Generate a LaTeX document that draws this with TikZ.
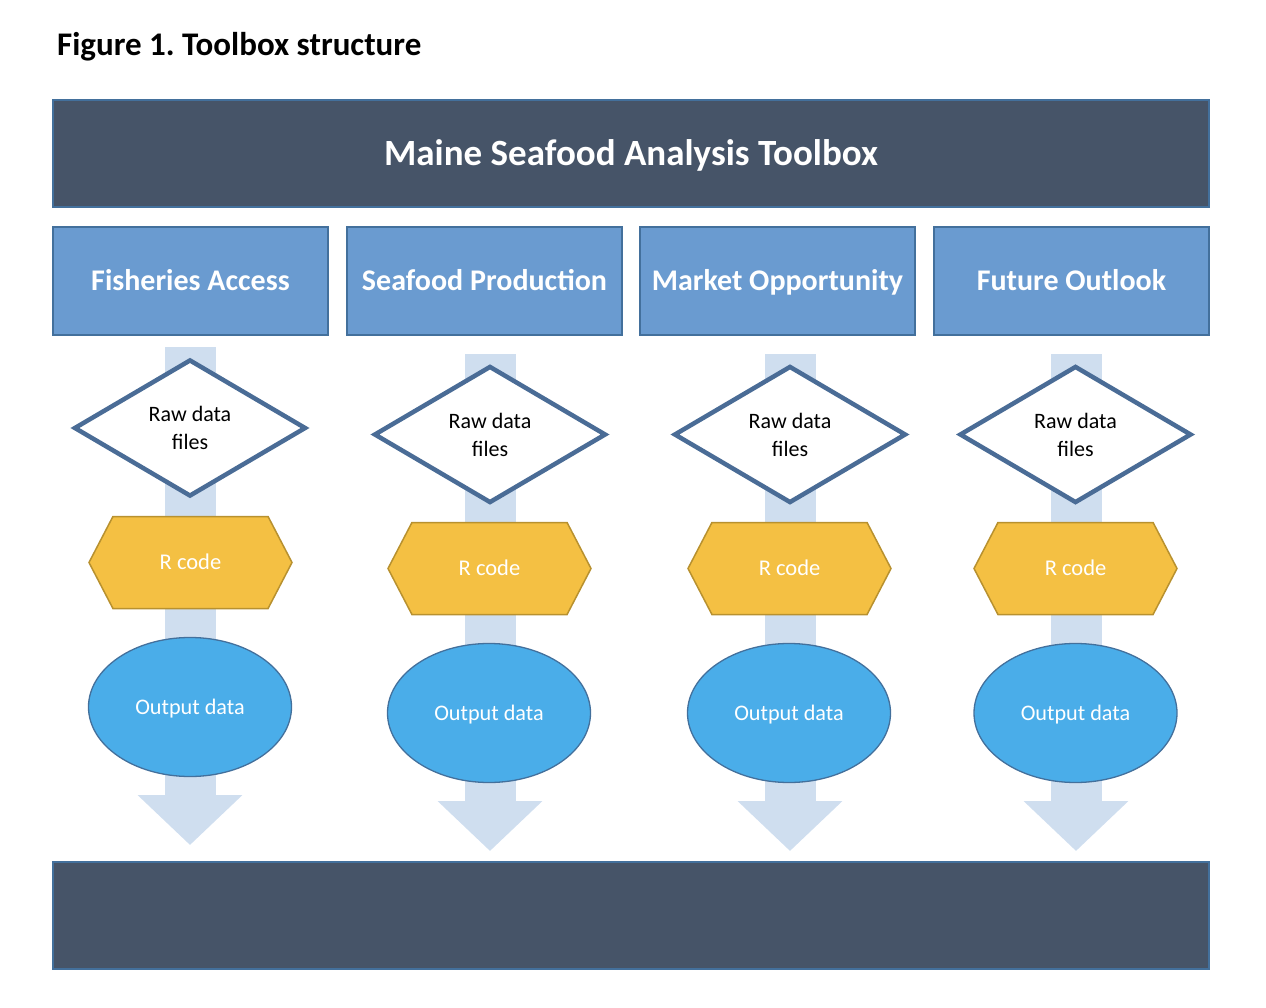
\documentclass[tikz,border=0pt]{standalone}
\usepackage{fontspec}
\setmainfont{Carlito}
\frenchspacing
\usetikzlibrary{shapes.geometric,shapes.symbols,arrows.meta}
\definecolor{navy}{HTML}{465468}
\definecolor{edgeblue}{HTML}{43709C}
\definecolor{catblue}{HTML}{6A9BD0}
\definecolor{diaedge}{HTML}{4A6C96}
\definecolor{flow}{HTML}{CFDEEF}
\definecolor{gold}{HTML}{F4C043}
\definecolor{goldedge}{HTML}{B8912F}
\definecolor{sky}{HTML}{4AADE9}
\begin{document}
\begin{tikzpicture}[x=1pt,y=-1pt,
  bigbox/.style={draw=edgeblue,line width=2pt,fill=navy,minimum width=1156pt,minimum height=107pt,inner sep=0pt,text=white,text height=23.5pt,text depth=0pt,font=\bfseries\fontsize{37}{44}\selectfont},
  catbox/.style={draw=edgeblue,line width=2pt,fill=catblue,minimum width=275pt,minimum height=107pt,inner sep=0pt,text=white,text height=19pt,text depth=0pt,font=\bfseries\fontsize{30}{36}\selectfont},
  rawbox/.style={diamond,draw=diaedge,line width=4.5pt,fill=white,minimum width=232pt,minimum height=137pt,inner sep=0pt,align=center,font=\fontsize{22}{28}\selectfont},
  codebox/.style={signal,signal to=west and east,signal pointer angle=125,draw=goldedge,line width=1.5pt,fill=gold,minimum width=203pt,minimum height=92pt,inner sep=0pt,text=white,text height=14pt,text depth=0pt,font=\fontsize{22.5}{27}\selectfont},
  outbox/.style={ellipse,draw=edgeblue,line width=1.3pt,fill=sky,minimum width=203pt,minimum height=139pt,inner sep=0pt,text=white,text height=14pt,text depth=0pt,font=\fontsize{22.2}{27}\selectfont},
  flowarrow/.style={draw=flow,line width=51pt,-{Triangle[width=102pt,length=50pt]}}
]
\useasboundingbox (0,0) rectangle (1266,1008);

\node[anchor=base west,inner sep=0pt,font=\bfseries\fontsize{33}{38}\selectfont] (fig) at (57,56) {Figure 1. Toolbox structure};

\node[bigbox] (top) at (631,153.5) {Maine Seafood Analysis Toolbox};
\node[bigbox] (bottom) at (631,915.5) {};

\node[catbox] (c1) at (190.5,281) {Fisheries Access};
\node[catbox] (c2) at (484.5,281) {Seafood Production};
\node[catbox] (c3) at (777.5,281) {Market Opportunity};
\node[catbox] (c4) at (1071.5,281) {Future Outlook};

% flow arrows
\coordinate (s1) at (190,347); \coordinate (e1) at (190,845);
\coordinate (s2) at (490,354); \coordinate (e2) at (490,851);
\coordinate (s3) at (790,354); \coordinate (e3) at (790,851);
\coordinate (s4) at (1076,354); \coordinate (e4) at (1076,851);
\draw[flowarrow] (s1) -- (e1);
\draw[flowarrow] (s2) -- (e2);
\draw[flowarrow] (s3) -- (e3);
\draw[flowarrow] (s4) -- (e4);

% column 1
\node[rawbox] (r1) at (190,428) {Raw data\\files};
\node[codebox] (k1) at (190.5,562.5) {R code};
\node[outbox] (o1) at (190,707) {Output data};
% column 2
\node[rawbox] (r2) at (490,434.5) {Raw data\\files};
\node[codebox] (k2) at (489.5,568.5) {R code};
\node[outbox] (o2) at (489,713) {Output data};
% column 3
\node[rawbox] (r3) at (790,434.5) {Raw data\\files};
\node[codebox] (k3) at (789.5,568.5) {R code};
\node[outbox] (o3) at (789,713) {Output data};
% column 4
\node[rawbox] (r4) at (1075.5,434.5) {Raw data\\files};
\node[codebox] (k4) at (1075.5,568.5) {R code};
\node[outbox] (o4) at (1075.5,713) {Output data};
\end{tikzpicture}
\end{document}
